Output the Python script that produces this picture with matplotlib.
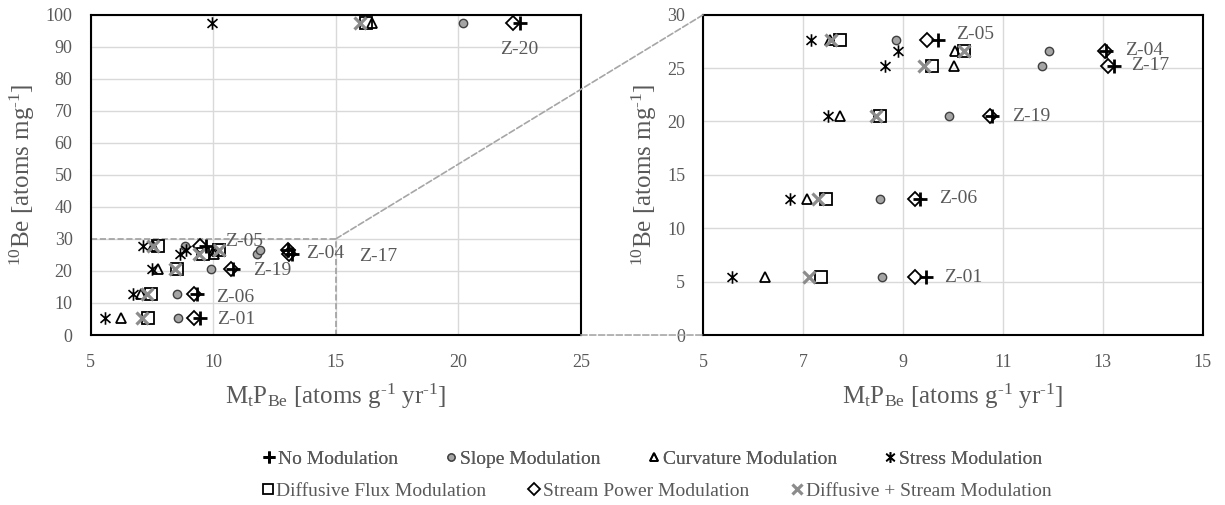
import matplotlib
matplotlib.use('Agg')
import matplotlib.pyplot as plt
from matplotlib.path import Path
from matplotlib.patches import ConnectionPatch
from matplotlib.lines import Line2D

plt.rcParams['font.family'] = ['Liberation Serif', 'DejaVu Serif']
plt.rcParams['mathtext.fontset'] = 'custom'
plt.rcParams['mathtext.rm'] = 'Liberation Serif'
plt.rcParams['mathtext.it'] = 'Liberation Serif:italic'
plt.rcParams['mathtext.default'] = 'regular'

# ---------------- data ----------------
samples = ['Z-01', 'Z-06', 'Z-19', 'Z-17', 'Z-04', 'Z-05', 'Z-20']
be10 = [5.4, 12.75, 20.5, 25.2, 26.6, 27.65, 97.5]

no_modulation = [9.45, 9.34, 10.79, 13.23, 13.06, 9.69, 22.5]
slope_modulation = [8.57, 8.54, 9.92, 11.79, 11.92, 8.86, 20.2]
curvature_modulation = [6.23, 7.07, 7.74, 10.02, 10.04, 7.53, 16.47]
stress_modulation = [5.57, 6.74, 7.49, 8.63, 8.89, 7.15, 9.97]
diffusive_flux_modulation = [7.35, 7.46, 8.54, 9.57, 10.23, 7.74, 16.22]
stream_power_modulation = [9.23, 9.23, 10.74, 13.11, 13.05, 9.47, 22.24]
diffusive_stream_modulation = [7.11, 7.29, 8.46, 9.41, 10.23, 7.55, 15.97]

series_names = ['No Modulation', 'Slope Modulation', 'Curvature Modulation',
                'Stress Modulation', 'Diffusive Flux Modulation',
                'Stream Power Modulation', 'Diffusive + Stream Modulation']
series_values = [no_modulation, slope_modulation, curvature_modulation,
                 stress_modulation, diffusive_flux_modulation,
                 stream_power_modulation, diffusive_stream_modulation]

left_xticks = [5, 10, 15, 20, 25]
left_yticks = [0, 10, 20, 30, 40, 50, 60, 70, 80, 90, 100]
right_xticks = [5, 7, 9, 11, 13, 15]
right_yticks = [0, 5, 10, 15, 20, 25, 30]
zoom_box = (5, 15, 0, 30)  # x0, x1, y0, y1 of inset region

# ---------------- styles ----------------
star = Path([(0, -1), (0, 1), (-0.8, -0.7), (0.8, 0.7), (-0.8, 0.7), (0.8, -0.7)],
            [Path.MOVETO, Path.LINETO, Path.MOVETO, Path.LINETO, Path.MOVETO, Path.LINETO])

styles = [
    dict(marker='+', ms=9.5, mew=2.0, color='black', mfc='none', zorder=6),
    dict(marker='o', ms=6, mew=1.0, color='#404040', mfc='#a5a5a5', zorder=4),
    dict(marker='^', ms=7.5, mew=1.3, color='black', mfc='none', zorder=4),
    dict(marker=star, ms=9, mew=1.2, color='black', mfc='none', zorder=4),
    dict(marker='s', ms=8, mew=1.3, color='black', mfc='none', zorder=3),
    dict(marker='D', ms=7, mew=1.3, color='black', mfc='none', zorder=3),
    dict(marker='x', ms=8, mew=2.3, color='#8c8c8c', mfc='none', zorder=5),
]

txt_color = '#595959'
grid_color = '#d9d9d9'
zoom_color = '#a6a6a6'

fig = plt.figure(figsize=(12.25, 5.05), dpi=100)
ax1 = fig.add_axes([0.0740, 0.3366, 0.4002, 0.6343])
ax2 = fig.add_axes([0.5741, 0.3366, 0.4077, 0.6343])

for ax in (ax1, ax2):
    for vals, st in zip(series_values, styles):
        ax.plot(vals, be10, linestyle='none', marker=st['marker'], ms=st['ms'],
                mew=st['mew'], mec=st['color'], mfc=st['mfc'], zorder=st['zorder'],
                clip_on=True)
    ax.grid(True, color=grid_color, lw=1.0)
    ax.set_axisbelow(True)
    ax.set_facecolor('none')
    for s in ax.spines.values():
        s.set_linewidth(1.5)
        s.set_color('black')
    ax.tick_params(length=0, labelsize=13, colors=txt_color)
    ax.tick_params(axis='x', pad=14)
    ax.tick_params(axis='y', pad=13)

ax1.set_xlim(5, 25)
ax1.set_ylim(0, 100)
ax1.set_xticks(left_xticks)
ax1.set_yticks(left_yticks)
ax2.set_xlim(5, 15)
ax2.set_ylim(0, 30)
ax2.set_xticks(right_xticks)
ax2.set_yticks(right_yticks)

ylab = r'$^{10}$Be [atoms mg$^{\text{-}1}$]'
xlab = r'M$_{t}$P$_{Be}$ [atoms g$^{\text{-}1}$ yr$^{\text{-}1}$]'
for ax, yx in ((ax1, -0.140), (ax2, -0.118)):
    ax.set_ylabel(ylab, fontsize=18, color=txt_color)
    ax.yaxis.set_label_coords(yx, 0.5)
    ax.yaxis.label.set_va('center')
    ax.set_xlabel(xlab, fontsize=18, color=txt_color)
    ax.xaxis.set_label_coords(0.5, -0.193)
    ax.xaxis.label.set_va('center')

# data labels (offsets in pixels from the No Modulation points)
left_offsets = {'Z-01': (17, -2), 'Z-06': (19, -3), 'Z-19': (20, -1.5), 'Z-17': (67, -2),
                'Z-04': (18, -3.5), 'Z-05': (19, 5), 'Z-20': (0, -27)}
right_offsets = {'Z-01': (19, 0), 'Z-06': (19, 0), 'Z-19': (20, 0), 'Z-17': (17, 0),
                 'Z-04': (19, 0), 'Z-05': (19, 5)}
for ax, offs in ((ax1, left_offsets), (ax2, right_offsets)):
    for name, xv, yv in zip(samples, no_modulation, be10):
        if name not in offs:
            continue
        dx, dy = offs[name]
        ax.annotate(name, (xv, yv), xytext=(dx, dy), textcoords='offset pixels',
                    ha='center' if name == 'Z-20' else 'left', va='center',
                    fontsize=14, color=txt_color, zorder=7)

# zoom box on left axes
x0, x1, y0, y1 = zoom_box
ax1.plot([x0, x1, x1], [y1, y1, y0], ls='--', color='#a0a0a0', lw=1.2, zorder=2)

con1 = ConnectionPatch(xyA=(x1, y1), coordsA=ax1.transData, xyB=(x0, y1), coordsB=ax2.transData,
                       ls='--', color=zoom_color, lw=1.2, zorder=3)
con2 = ConnectionPatch(xyA=(25, y0), coordsA=ax1.transData, xyB=(x0, y0), coordsB=ax2.transData,
                       ls='--', color=zoom_color, lw=1.2, zorder=3)
fig.add_artist(con1)
fig.add_artist(con2)

# legend
handles = [Line2D([], [], linestyle='none', marker=st['marker'], ms=st['ms'] * 0.85,
                  mew=st['mew'], mec=st['color'], mfc=st['mfc']) for st in styles]
leg1 = fig.legend(handles[:4], series_names[:4], loc='center', ncol=4,
                  bbox_to_anchor=(652 / 1225, 1 - 459 / 505), frameon=False,
                  fontsize=14, labelcolor=txt_color, handlelength=0.7,
                  handletextpad=0.1, columnspacing=2.4, borderpad=0)
leg2 = fig.legend(handles[4:], series_names[4:], loc='center', ncol=3,
                  bbox_to_anchor=(656 / 1225, 1 - 491 / 505), frameon=False,
                  fontsize=14, labelcolor=txt_color, handlelength=0.7,
                  handletextpad=0.1, columnspacing=2.1, borderpad=0)
fig.add_artist(leg1)

fig.savefig('out.png', dpi=100)
